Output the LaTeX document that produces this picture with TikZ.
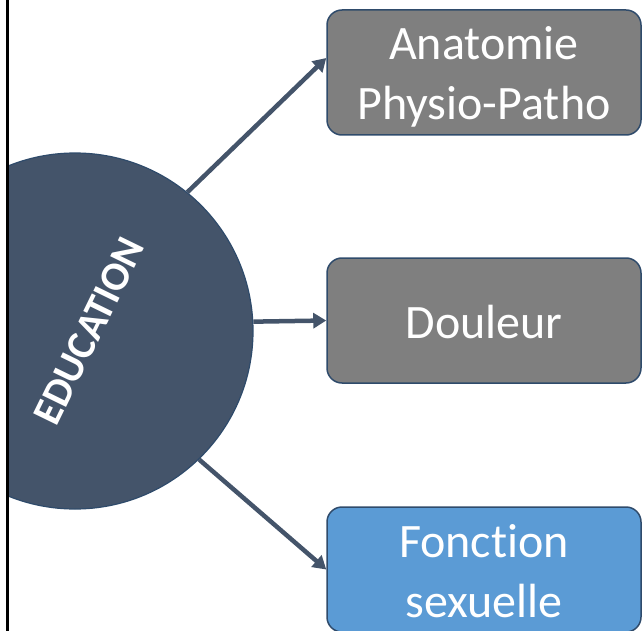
\documentclass[tikz,border=0pt]{standalone}
\usepackage{fontspec}
\setmainfont[Ligatures=NoCommon]{Carlito}
\usetikzlibrary{arrows.meta}
\definecolor{slate}{HTML}{44546A}
\definecolor{slateline}{HTML}{2F4B6B}
\definecolor{boxgray}{HTML}{7F7F7F}
\definecolor{boxblue}{HTML}{5B9BD5}
\newcommand\boxstrut{\rule[-10pt]{0pt}{55pt}}
\tikzset{
  topic/.style={draw=slateline, line width=1.5pt, rounded corners=15pt, minimum width=314pt, minimum height=125pt, inner sep=0pt, text=white, align=center, font=\fontsize{48}{60}\selectfont},
  link/.style={draw=slate, line width=4.5pt, -{Triangle[length=13pt,width=15pt]}}
}
\begin{document}
\begin{tikzpicture}[x=1pt,y=-1pt]
		\useasboundingbox (0,0) rectangle (642,631);
		\begin{scope}
		\clip (8,0) rectangle (642,631);
		\node[circle, fill=slate, draw=slateline, line width=1.2pt, minimum size=356pt, inner sep=0pt] (edu) at (75,331) {};
		\end{scope}
		\node[rotate=64, text=white, font=\fontsize{41}{48}\selectfont\bfseries] (eduText) at (89,331) {EDUCATION};
		\node[topic, fill=boxgray] (anat) at (484,72.5) {\boxstrut Anatomie\\\boxstrut Physio-Patho};
		\node[topic, fill=boxgray] (dou) at (484,320.5) {\boxstrut Douleur};
		\node[topic, fill=boxblue] (fonc) at (484,569.5) {\boxstrut Fonction\\\boxstrut sexuelle};
		\draw[link] (edu.51.7) -- ([yshift=14.5pt]anat.west);
		\draw[link] (edu.3.2) -- (dou.west);
		\draw[link] (edu.-46.6) -- (fonc.west);
		\draw[line width=3pt, black] (7,0) -- (7,631);
\end{tikzpicture}
\end{document}
